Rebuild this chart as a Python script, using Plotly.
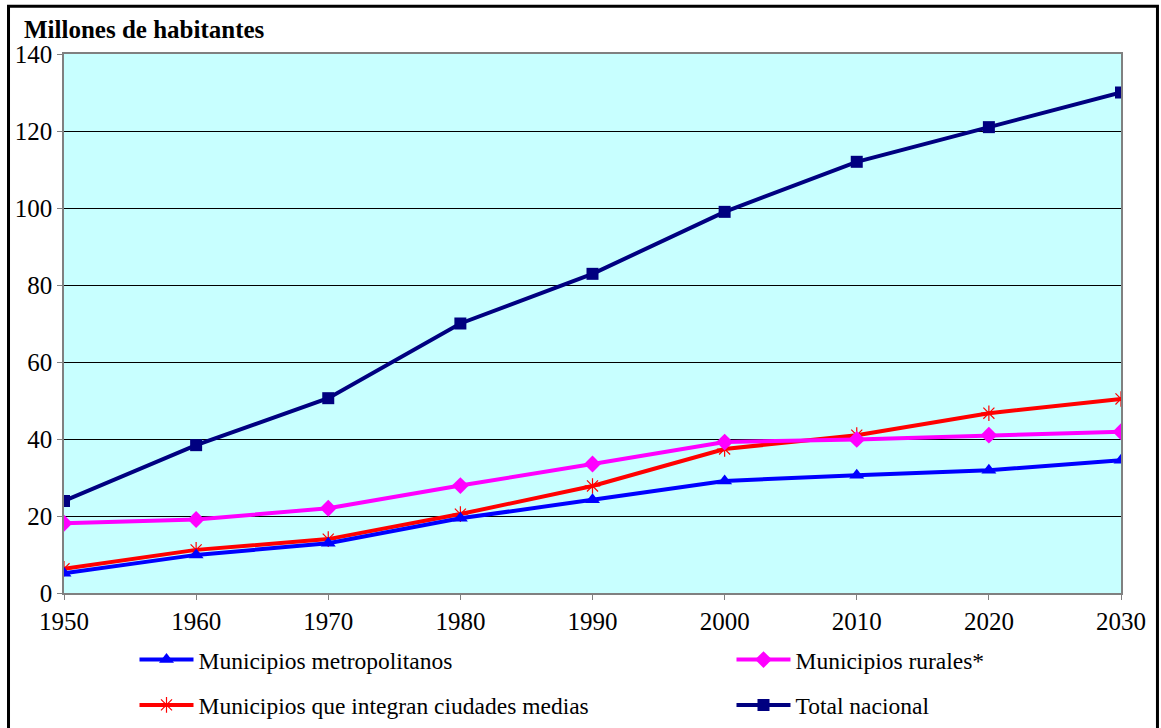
import plotly.graph_objects as go

# Population by municipality type, millions of inhabitants
years = [1950, 1960, 1970, 1980, 1990, 2000, 2010, 2020, 2030]
metropolitanos = [5.1, 9.9, 12.9, 19.4, 24.2, 29.1, 30.6, 31.9, 34.5]
ciudades_medias = [6.3, 11.2, 14.0, 20.5, 27.8, 37.4, 41.0, 46.7, 50.4]
rurales = [18.1, 19.1, 22.0, 27.9, 33.5, 39.2, 39.9, 41.0, 41.9]
total_nacional = [23.9, 38.4, 50.6, 70.0, 82.9, 99.0, 112.0, 121.0, 130.0]

y_ticks = [0, 20, 40, 60, 80, 100, 120, 140]

FONT = "Times New Roman, Liberation Serif, Times, serif"

fig = go.Figure()

fig.add_trace(go.Scatter(
    x=years, y=ciudades_medias, mode="lines+markers",
    name="Municipios que integran ciudades medias",
    line=dict(color="#FF0000", width=4),
    marker=dict(symbol="asterisk-open", size=13, color="#FF0000",
                line=dict(color="#C03030", width=1.2)),
    legend="legend3",
))
fig.add_trace(go.Scatter(
    x=years, y=metropolitanos, mode="lines+markers",
    name="Municipios metropolitanos",
    line=dict(color="#0000FF", width=4),
    marker=dict(symbol="triangle-up", size=13, color="#0000FF"),
    legend="legend",
))
fig.add_trace(go.Scatter(
    x=years, y=rurales, mode="lines+markers",
    name="Municipios rurales*",
    line=dict(color="#FF00FF", width=4),
    marker=dict(symbol="diamond", size=13, color="#FF00FF"),
    legend="legend2",
))
fig.add_trace(go.Scatter(
    x=years, y=total_nacional, mode="lines+markers",
    name="Total nacional",
    line=dict(color="#000080", width=4),
    marker=dict(symbol="square", size=12, color="#000080"),
    legend="legend4",
))

legend_common = dict(
    orientation="h", xanchor="left", yanchor="middle",
    font=dict(family=FONT, size=23.5, color="black"),
    itemwidth=54,
    bgcolor="rgba(0,0,0,0)", borderwidth=0,
)

col1, col2 = 0.0667, 0.6315
row1, row2 = -0.124, -0.208

fig.update_layout(
    width=1161, height=728,
    margin=dict(l=64, r=40, t=54, b=135, autoexpand=False),
    paper_bgcolor="white",
    plot_bgcolor="#C8FFFF",
    font=dict(family=FONT, size=22, color="black"),
    showlegend=True,
    legend=dict(x=col1, y=row1, **legend_common),
    legend2=dict(x=col2, y=row1, **legend_common),
    legend3=dict(x=col1, y=row2, **legend_common),
    legend4=dict(x=col2, y=row2, **legend_common),
    xaxis=dict(
        range=[1950, 2030], tickmode="array", tickvals=years,
        ticktext=[str(y) for y in years],
        showgrid=False, zeroline=False,
        showline=True, linecolor="#808080", linewidth=1.5, mirror=True,
        ticks="outside", ticklen=5, tickcolor="#808080",
        tickfont=dict(family=FONT, size=25, color="black"),
    ),
    yaxis=dict(
        range=[0, 140], tickmode="array", tickvals=y_ticks,
        showgrid=True, gridcolor="black", gridwidth=1,
        zeroline=False,
        showline=True, linecolor="#808080", linewidth=1.5, mirror=True,
        ticks="outside", ticklen=5, tickcolor="#808080",
        tickfont=dict(family=FONT, size=25, color="black"),
    ),
    annotations=[dict(
        text="<b>Millones de habitantes</b>",
        xref="paper", yref="paper", x=-0.040, y=1.045,
        xanchor="left", yanchor="middle", showarrow=False,
        font=dict(family=FONT, size=25, color="black"),
    )],
    shapes=[dict(
        type="rect", xref="paper", yref="paper",
        x0=-0.0525, x1=1.0345, y0=-0.3, y1=1.0885,
        line=dict(color="black", width=3), fillcolor="rgba(0,0,0,0)",
        layer="above",
    )],
)

fig.write_html("out.html")
